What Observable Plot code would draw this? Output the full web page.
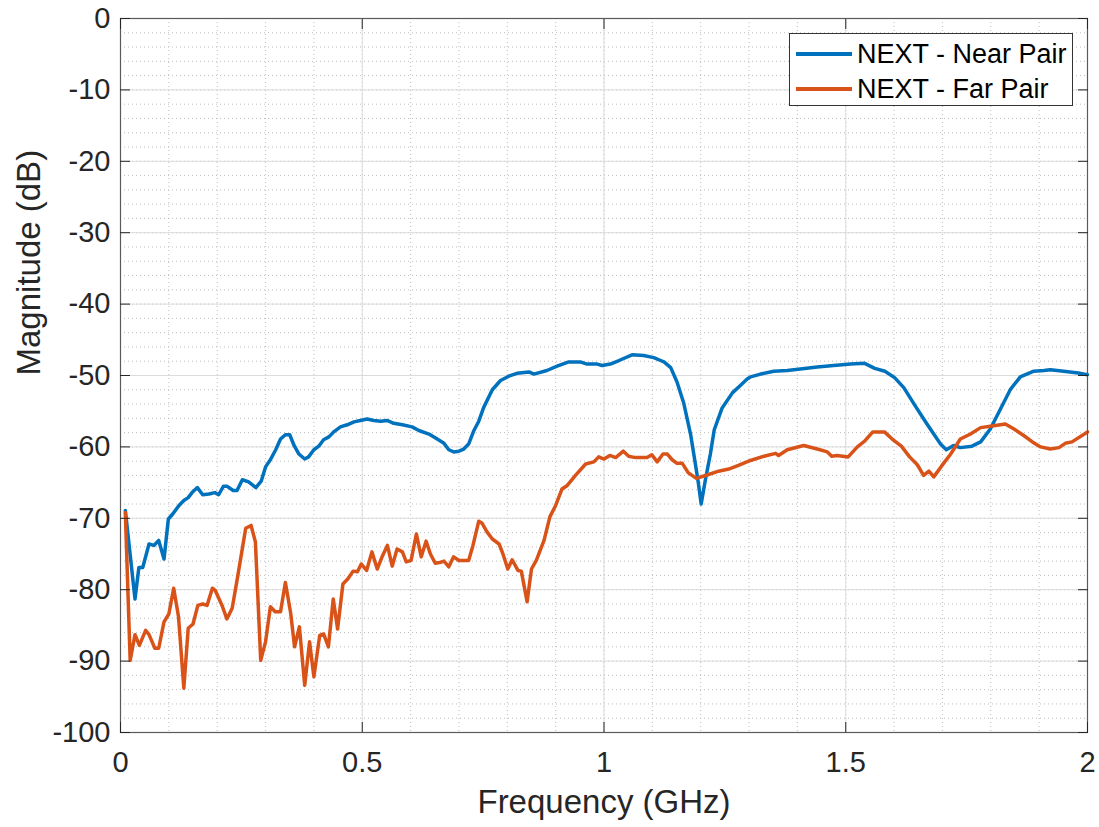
<!DOCTYPE html>
<html><head><meta charset="utf-8">
<script src="https://cdn.jsdelivr.net/npm/d3@7"></script>
<script src="https://cdn.jsdelivr.net/npm/@observablehq/plot@0.6"></script>
<style>
body{margin:0;background:#fff;}
#wrap{position:relative;width:1099px;height:827px;font-family:"Liberation Sans",Arial,sans-serif;color:#000;}
#legend{position:absolute;left:789px;top:33px;width:284px;height:73px;border:1px solid #333;background:#fff;box-sizing:border-box;}
.row{position:absolute;left:0;height:30px;width:100%;}
.sw{position:absolute;left:6px;width:56px;height:3.5px;top:13px;}
.lt{position:absolute;left:67px;top:0;font-size:27px;line-height:30px;white-space:nowrap;}
</style></head>
<body><div id="wrap"></div>
<script>
const seriesNames = ["NEXT - Near Pair", "NEXT - Far Pair"];
const seriesColors = ["#0072BD", "#D95319"];

const nearFreq = [0.01,0.03,0.038,0.046,0.059,0.069,0.079,0.09,0.099,0.108,0.121,0.131,0.14,0.148,0.159,0.17,0.183,0.195,0.203,0.213,0.22,0.233,0.241,0.252,0.265,0.28,0.291,0.3,0.31,0.321,0.331,0.341,0.35,0.359,0.369,0.381,0.389,0.4,0.41,0.42,0.431,0.441,0.455,0.469,0.483,0.496,0.51,0.524,0.538,0.552,0.565,0.583,0.603,0.617,0.638,0.655,0.669,0.679,0.689,0.7,0.71,0.72,0.731,0.741,0.751,0.769,0.786,0.803,0.82,0.845,0.855,0.882,0.903,0.927,0.951,0.965,0.986,0.996,1.013,1.031,1.058,1.082,1.103,1.117,1.124,1.138,1.151,1.165,1.179,1.189,1.195,1.201,1.21,1.22,1.228,1.244,1.266,1.282,1.296,1.303,1.324,1.351,1.379,1.406,1.441,1.475,1.51,1.539,1.56,1.581,1.601,1.62,1.645,1.668,1.682,1.696,1.708,1.723,1.737,1.761,1.779,1.799,1.82,1.841,1.861,1.889,1.91,1.923,1.951,1.985,2.0];
const nearDb = [-68.9,-81.3,-76.9,-76.9,-73.6,-73.8,-73.1,-75.7,-70.1,-69.4,-68.2,-67.5,-67.1,-66.4,-65.7,-66.7,-66.6,-66.4,-66.7,-65.5,-65.5,-66.1,-66.1,-64.6,-64.9,-65.7,-64.8,-62.8,-61.8,-60.4,-58.9,-58.3,-58.3,-59.8,-61,-61.7,-61.4,-60.4,-59.9,-59,-58.6,-57.9,-57.2,-56.9,-56.5,-56.3,-56.1,-56.3,-56.4,-56.3,-56.7,-56.9,-57.2,-57.7,-58.2,-58.9,-59.5,-60.4,-60.7,-60.6,-60.3,-59.6,-57.7,-56.4,-54.5,-52,-50.7,-50.1,-49.7,-49.5,-49.8,-49.3,-48.7,-48.1,-48.1,-48.4,-48.4,-48.6,-48.4,-47.9,-47.1,-47.2,-47.5,-47.9,-48.1,-48.9,-50.9,-53.9,-58.2,-62.4,-65,-68,-64.5,-61,-57.6,-54.6,-52.4,-51.4,-50.5,-50.2,-49.8,-49.4,-49.3,-49.1,-48.8,-48.6,-48.4,-48.3,-49,-49.4,-50.3,-51.7,-54.4,-56.8,-58.2,-59.6,-60.4,-59.8,-60.1,-59.9,-59.3,-57.5,-54.7,-51.9,-50.2,-49.4,-49.3,-49.2,-49.4,-49.7,-49.9];

const farFreq = [0.01,0.02,0.03,0.039,0.052,0.059,0.071,0.079,0.09,0.1,0.11,0.12,0.131,0.14,0.15,0.16,0.17,0.179,0.19,0.196,0.21,0.22,0.231,0.241,0.259,0.27,0.279,0.29,0.3,0.31,0.32,0.331,0.341,0.352,0.36,0.37,0.381,0.391,0.4,0.412,0.42,0.43,0.44,0.449,0.46,0.47,0.481,0.49,0.498,0.509,0.52,0.531,0.541,0.552,0.562,0.572,0.583,0.591,0.601,0.612,0.622,0.632,0.641,0.651,0.66,0.669,0.679,0.689,0.7,0.72,0.729,0.741,0.748,0.758,0.769,0.783,0.791,0.801,0.81,0.822,0.829,0.841,0.85,0.86,0.876,0.888,0.9,0.913,0.924,0.941,0.962,0.979,0.989,1.0,1.012,1.024,1.04,1.051,1.065,1.089,1.099,1.11,1.122,1.131,1.141,1.151,1.162,1.174,1.191,1.21,1.237,1.258,1.278,1.303,1.331,1.355,1.361,1.379,1.413,1.441,1.462,1.471,1.482,1.505,1.524,1.539,1.556,1.58,1.596,1.615,1.632,1.648,1.661,1.672,1.682,1.698,1.717,1.737,1.758,1.779,1.799,1.83,1.848,1.868,1.886,1.903,1.923,1.941,1.954,1.968,2.0];
const farDb = [-69.2,-89.9,-86.3,-87.8,-85.7,-86.3,-88.2,-88.2,-84.5,-83.4,-79.8,-83.8,-93.8,-85.4,-84.8,-82.2,-82,-82.2,-79.8,-80.1,-82.2,-84.1,-82.6,-78.7,-71.4,-71,-73.3,-89.9,-87.3,-82.4,-83.1,-83.1,-79,-83.3,-88,-85.2,-93.4,-87.3,-92.2,-86.4,-86.2,-88,-81.3,-85.5,-79.2,-78.5,-77.4,-77.5,-76.4,-77.3,-74.7,-77.1,-75.4,-73.8,-76.7,-74.3,-74.7,-76.1,-75.9,-72.2,-75.4,-73.2,-75,-76.3,-76.2,-76,-76.8,-75.4,-75.9,-75.9,-73.8,-70.4,-70.7,-71.9,-72.9,-73.6,-75,-77.1,-75.8,-77.3,-77.4,-81.7,-77.1,-75.9,-73.1,-69.8,-68.2,-65.9,-65.4,-64,-62.4,-62.1,-61.4,-61.7,-61.2,-61.5,-60.6,-61.3,-61.5,-61.5,-61.1,-62.1,-61,-61,-61.8,-62.3,-62.3,-63.6,-64.4,-64,-63.4,-63.1,-62.6,-61.9,-61.3,-60.9,-61.2,-60.4,-59.8,-60.3,-60.7,-61.3,-61.2,-61.4,-60,-59.2,-57.9,-57.9,-58.9,-59.9,-61.4,-62.5,-64,-63.4,-64.2,-62.7,-61,-58.9,-58.2,-57.3,-57.1,-56.8,-57.5,-58.4,-59.3,-60,-60.3,-60.1,-59.5,-59.3,-57.9];

const xTicks = [0, 0.5, 1, 1.5, 2];
const xTickLabels = ["0", "0.5", "1", "1.5", "2"];
const yTicks = [0, -10, -20, -30, -40, -50, -60, -70, -80, -90, -100];
const yTickLabels = ["0", "-10", "-20", "-30", "-40", "-50", "-60", "-70", "-80", "-90", "-100"];
const xLabel = "Frequency (GHz)";
const yLabel = "Magnitude (dB)";

const nearData = nearFreq.map((f, i) => ({f, db: nearDb[i]}));
const farData = farFreq.map((f, i) => ({f, db: farDb[i]}));
const xMinor = d3.range(0, 21).map(i => i / 10);
const yMinor = d3.range(0, 51).map(i => -i * 2);

const ink = "#262626";
const font = "'Liberation Sans', Arial, sans-serif";

const chart = Plot.plot({
  width: 1099, height: 827,
  marginLeft: 120, marginRight: 12, marginTop: 18, marginBottom: 95,
  x: {domain: [0, 2]},
  y: {domain: [-100, 0]},
  style: {fontFamily: font, background: "#fff", overflow: "visible"},
  marks: [
    Plot.gridX(xMinor, {stroke: "#bdbdbd", strokeOpacity: 1, strokeDasharray: "1,3", strokeWidth: 1}),
    Plot.gridY(yMinor, {stroke: "#bdbdbd", strokeOpacity: 1, strokeDasharray: "1,3", strokeWidth: 1}),
    Plot.gridX(xTicks, {stroke: "#dcdcdc", strokeOpacity: 1, strokeWidth: 1}),
    Plot.gridY(yTicks, {stroke: "#dcdcdc", strokeOpacity: 1, strokeWidth: 1}),
    Plot.line(nearData, {x: "f", y: "db", stroke: seriesColors[0], strokeWidth: 3.5}),
    Plot.line(farData, {x: "f", y: "db", stroke: seriesColors[1], strokeWidth: 3.5}),
    Plot.frame({stroke: "#5a5a5a", strokeWidth: 1.2}),
    Plot.axisX({ticks: xTicks, anchor: "bottom", tickSize: 10, dy: -10, tickFormat: () => "", stroke: ink, label: null}),
    Plot.axisX({ticks: xTicks, anchor: "top", tickSize: 10, dy: 10, tickFormat: () => "", stroke: ink, label: null}),
    Plot.axisY({ticks: yTicks, anchor: "left", tickSize: 10, dx: 10, tickFormat: () => "", stroke: ink, label: null}),
    Plot.axisY({ticks: yTicks, anchor: "right", tickSize: 10, dx: -10, tickFormat: () => "", stroke: ink, label: null}),
    Plot.axisX({ticks: xTicks, anchor: "bottom", tickSize: 0, tickPadding: 19, fontSize: 29, fill: ink,
      tickFormat: d => xTickLabels[xTicks.indexOf(d)], label: null}),
    Plot.axisY({ticks: yTicks, anchor: "left", tickSize: 0, tickPadding: 10, fontSize: 29, fill: ink,
      tickFormat: d => yTickLabels[yTicks.indexOf(d)], label: null}),
    Plot.text([xLabel], {text: d => d, frameAnchor: "bottom", dy: 80, fontSize: 33, fill: ink}),
    Plot.text([yLabel], {text: d => d, frameAnchor: "left", dx: -91, rotate: -90, fontSize: 33, fill: ink})
  ]
});

const wrap = document.getElementById("wrap");
wrap.appendChild(chart);
const legend = document.createElement("div");
legend.id = "legend";
seriesNames.forEach((name, i) => {
  const row = document.createElement("div");
  row.className = "row";
  row.style.top = (5 + i * 35) + "px";
  const sw = document.createElement("div");
  sw.className = "sw";
  sw.style.background = seriesColors[i];
  const lt = document.createElement("div");
  lt.className = "lt";
  lt.textContent = name;
  row.appendChild(sw); row.appendChild(lt);
  legend.appendChild(row);
});
wrap.appendChild(legend);
</script></body></html>
